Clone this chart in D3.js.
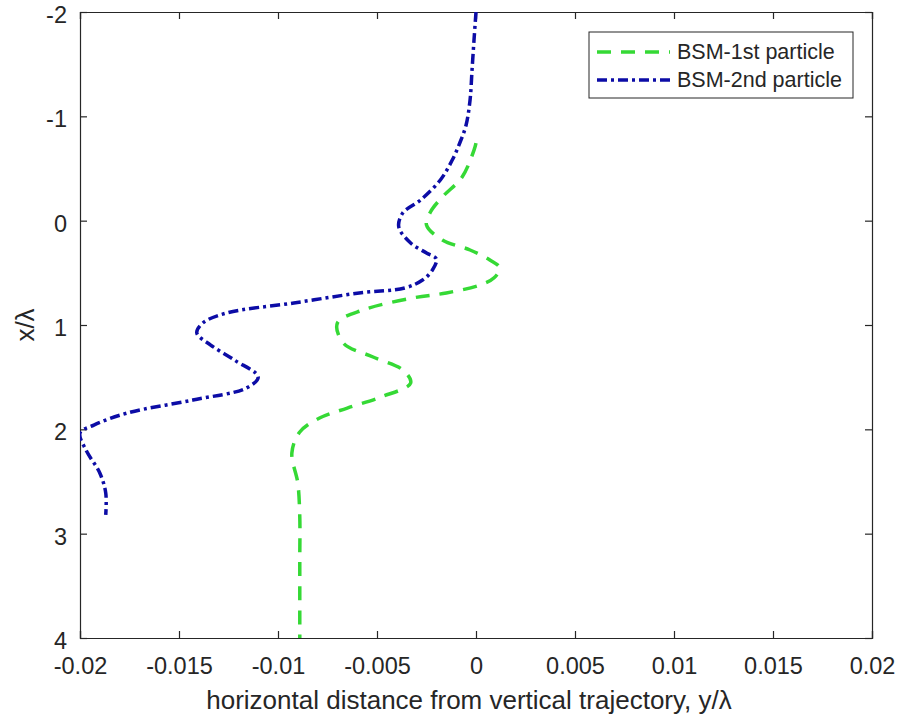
<!DOCTYPE html>
<html>
<head>
<meta charset="utf-8">
<script src="https://cdn.jsdelivr.net/npm/d3@7"></script>
<style>
  body { margin: 0; background: #fff; }
  text { font-family: "Liberation Sans", Arial, sans-serif; fill: #262626; }
</style>
</head>
<body>
<div id="chart"></div>
<script>
// BSM-1st particle: [horizontal distance y/λ, depth x/λ]
var first_particle = [
  [0.0000, -0.744], [-0.0001, -0.677], [-0.0007, -0.418], [-0.0017, -0.227],
  [-0.0023, -0.083], [-0.0025, 0.042], [-0.0017, 0.185], [-0.0003, 0.281],
  [0.0007, 0.377], [0.0012, 0.454], [0.0009, 0.550], [0.0002, 0.617],
  [-0.0015, 0.693], [-0.0032, 0.741], [-0.0057, 0.856], [-0.0070, 0.981],
  [-0.0067, 1.173], [-0.0052, 1.307], [-0.0037, 1.431], [-0.0033, 1.556],
  [-0.0048, 1.690], [-0.0065, 1.796], [-0.0079, 1.891], [-0.0089, 2.026],
  [-0.0093, 2.227], [-0.0090, 2.514], [-0.0089, 2.840], [-0.0089, 3.252],
  [-0.0089, 4.000]
];

// BSM-2nd particle
var second_particle = [
  [0.0000, -2.000], [-0.0001, -1.732], [-0.0002, -1.444], [-0.0003, -1.157],
  [-0.0005, -0.917], [-0.0008, -0.754], [-0.0012, -0.581], [-0.0018, -0.390],
  [-0.0028, -0.198], [-0.0037, -0.073], [-0.0039, 0.061], [-0.0033, 0.214],
  [-0.0025, 0.310], [-0.0020, 0.367], [-0.0022, 0.473], [-0.0027, 0.569],
  [-0.0036, 0.645], [-0.0059, 0.693], [-0.0092, 0.789], [-0.0126, 0.885],
  [-0.0138, 0.981], [-0.0141, 1.077], [-0.0134, 1.192], [-0.0122, 1.336],
  [-0.0110, 1.498], [-0.0116, 1.604], [-0.0143, 1.719], [-0.0176, 1.843],
  [-0.0193, 1.959], [-0.0200, 2.035], [-0.0197, 2.198], [-0.0190, 2.419],
  [-0.0187, 2.610], [-0.0187, 2.821]
];

var x_ticks = [-0.02, -0.015, -0.01, -0.005, 0, 0.005, 0.01, 0.015, 0.02];
var y_ticks = [-2, -1, 0, 1, 2, 3, 4];
var series_names = ['BSM-1st particle', 'BSM-2nd particle'];

var width = 902, height = 721;
var plot_left = 80, plot_right = 872, plot_top = 12, plot_bottom = 638;
var axis_color = '#262626';
var tick_font = '23.5px', label_font = '26px', legend_font = '21.5px';

var svg = d3.select('#chart').append('svg')
  .attr('width', width)
  .attr('height', height);

var x = d3.scaleLinear().domain([-0.02, 0.02]).range([plot_left, plot_right]);
var y = d3.scaleLinear().domain([-2, 4]).range([plot_top, plot_bottom]);

var fmt = function(v) { return String(+v.toFixed(3)); };

// axes with inward ticks on all four sides
var bottom_axis = d3.axisBottom(x).tickValues(x_ticks).tickSize(-7).tickPadding(19).tickFormat(fmt);
var top_axis = d3.axisTop(x).tickValues(x_ticks).tickSize(-7).tickFormat('');
var left_axis = d3.axisLeft(y).tickValues(y_ticks).tickSize(-7).tickPadding(13).tickFormat(fmt);
var right_axis = d3.axisRight(y).tickValues(y_ticks).tickSize(-7).tickFormat('');

function style_axis(g, dy) {
  g.selectAll('.domain').attr('stroke', axis_color).attr('stroke-width', 1.2);
  g.selectAll('.tick line').attr('stroke', axis_color).attr('stroke-width', 1.2);
  g.selectAll('.tick text')
    .attr('font-size', tick_font)
    .attr('dy', dy)
    .style('font-family', '"Liberation Sans", Arial, sans-serif')
    .attr('fill', axis_color);
}

svg.append('g').attr('transform', 'translate(0,' + plot_bottom + ')').call(bottom_axis).call(style_axis, '0.71em');
svg.append('g').attr('transform', 'translate(0,' + plot_top + ')').call(top_axis).call(style_axis, null);
svg.append('g').attr('transform', 'translate(' + plot_left + ',0)').call(left_axis).call(style_axis, '0.45em');
svg.append('g').attr('transform', 'translate(' + plot_right + ',0)').call(right_axis).call(style_axis, null);

// axis labels
svg.append('text')
  .attr('x', 469)
  .attr('y', 709)
  .attr('text-anchor', 'middle')
  .attr('font-size', label_font)
  .text('horizontal distance from vertical trajectory, y/\u03bb');

svg.append('text')
  .attr('transform', 'translate(34,325) rotate(-90)')
  .attr('text-anchor', 'middle')
  .attr('font-size', label_font)
  .text('x/\u03bb');

// curves
var line = d3.line()
  .x(function(d) { return x(d[0]); })
  .y(function(d) { return y(d[1]); })
  .curve(d3.curveCatmullRom.alpha(0.5));

svg.append('clipPath').attr('id', 'plot-clip')
  .append('rect')
  .attr('x', plot_left).attr('y', plot_top)
  .attr('width', plot_right - plot_left).attr('height', plot_bottom - plot_top);

var styles = [
  { color: '#35d935', dash: '14,10', width: 3.5 },
  { color: '#0c0ca6', dash: '10,4,3,4', width: 3.5 }
];

[first_particle, second_particle].forEach(function(series, i) {
  svg.append('path')
    .datum(series)
    .attr('clip-path', 'url(#plot-clip)')
    .attr('d', line)
    .attr('fill', 'none')
    .attr('stroke', styles[i].color)
    .attr('stroke-width', styles[i].width)
    .attr('stroke-dasharray', styles[i].dash);
});

// legend
var legend = svg.append('g').attr('transform', 'translate(589,32)');
legend.append('rect')
  .attr('width', 264).attr('height', 66)
  .attr('fill', '#fff')
  .attr('stroke', axis_color)
  .attr('stroke-width', 1);

series_names.forEach(function(name, i) {
  var ly = 20 + i * 28;
  legend.append('line')
    .attr('x1', 8).attr('x2', 81)
    .attr('y1', ly).attr('y2', ly)
    .attr('stroke', styles[i].color)
    .attr('stroke-width', styles[i].width)
    .attr('stroke-dasharray', styles[i].dash);
  legend.append('text')
    .attr('x', 88)
    .attr('y', ly + 7)
    .attr('font-size', legend_font)
    .text(name);
});
</script>
</body>
</html>
